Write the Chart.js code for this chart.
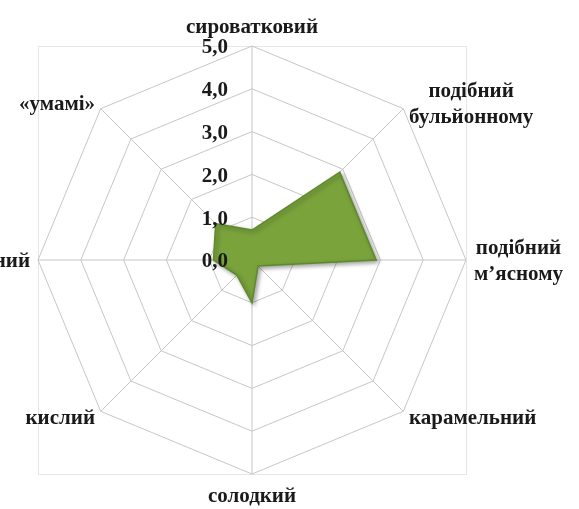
<!DOCTYPE html>
<html>
<head>
    <title>Профіль смаку</title>
    <script src="https://cdn.jsdelivr.net/npm/chart.js"></script>
    <style>
        body { margin: 0; background: #fff; overflow: hidden; }
        #chart { display: block; }
    </style>
</head>
<body>
    <canvas id="chart" width="579" height="509"></canvas>

    <script>
        // axes, clockwise from the top
        const labels = [
            'сироватковий',
            ['подібний', 'бульйонному'],
            ['подібний', 'м’ясному'],
            'карамельний',
            'солодкий',
            'кислий',
            'солоний',
            '«умамі»'
        ];
        const values = [0.7, 2.9, 2.9, 0.2, 1.0, 0.5, 0.9, 1.2];
        const tickLabels = ['0,0', '1,0', '2,0', '3,0', '4,0', '5,0'];

        const textFont = 'bold 21px "Liberation Serif", "Times New Roman", serif';
        const lineHeight = 26;

        // excel-like labels: point labels centred on the outside of each spoke,
        // tick values to the left of the vertical axis
        const textPlugin = {
            id: 'excelText',
            beforeDraw(chart) {
                const r = chart.scales.r;
                const ctx = chart.ctx;
                ctx.save();
                ctx.strokeStyle = '#e6e6e6';
                ctx.lineWidth = 1;
                ctx.strokeRect(r.xCenter - r.drawingArea + 0.5, r.yCenter - r.drawingArea + 0.5,
                    r.drawingArea * 2, r.drawingArea * 2);
                ctx.restore();
            },
            beforeDatasetsDraw(chart) {
                const ctx = chart.ctx;
                ctx.save();
                ctx.shadowColor = 'rgba(0, 0, 0, 0.35)';
                ctx.shadowBlur = 4;
                ctx.shadowOffsetX = 2;
                ctx.shadowOffsetY = 2;
            },
            afterDatasetsDraw(chart) {
                chart.ctx.restore();
            },
            afterDraw(chart) {
                const r = chart.scales.r;
                const ctx = chart.ctx;
                ctx.save();
                ctx.font = textFont;
                ctx.fillStyle = '#1a1a1a';
                ctx.textBaseline = 'middle';

                labels.forEach((label, i) => {
                    const lines = Array.isArray(label) ? label : [label];
                    const angle = r.getIndexAngle(i);
                    const sin = Math.sin(angle), cos = Math.cos(angle);
                    const pad = cos > 0.9 ? 7 : 8;
                    const pos = r.getPointPosition(i, r.drawingArea + pad);
                    const boxW = Math.max(...lines.map(l => ctx.measureText(l).width));
                    const boxH = lines.length * lineHeight;
                    let cx = pos.x, top = pos.y - boxH / 2;
                    if (sin > 0.3) cx = pos.x + boxW / 2;
                    else if (sin < -0.3) cx = pos.x - boxW / 2;
                    if (cos > 0.9) top = pos.y - boxH;
                    else if (cos < -0.9) top = pos.y;
                    ctx.textAlign = 'center';
                    lines.forEach((l, k) => ctx.fillText(l, cx, top + 2 + lineHeight * (k + 0.5)));
                });

                ctx.textAlign = 'right';
                r.ticks.forEach(tick => {
                    const y = r.yCenter - r.getDistanceFromCenterForValue(tick.value);
                    ctx.fillText(tick.label, r.xCenter - 24, y + 2);
                });
                ctx.restore();
            }
        };

        new Chart(document.getElementById('chart'), {
            type: 'radar',
            data: {
                labels: labels,
                datasets: [{
                    data: values,
                    backgroundColor: '#7aa33c',
                    borderColor: '#5f8a2c',
                    borderWidth: 1.5,
                    pointRadius: 0,
                    fill: true
                }]
            },
            options: {
                responsive: false,
                animation: false,
                layout: { padding: { left: 38, right: 113, top: 46, bottom: 35 } },
                plugins: {
                    legend: { display: false },
                    tooltip: { enabled: false }
                },
                scales: {
                    r: {
                        min: 0,
                        max: 5,
                        ticks: {
                            display: false,
                            stepSize: 1,
                            callback: (v, i) => tickLabels[i]
                        },
                        pointLabels: { display: false },
                        grid: { color: '#c6c6c6', lineWidth: 1 },
                        angleLines: { color: '#c6c6c6', lineWidth: 1 }
                    }
                }
            },
            plugins: [textPlugin]
        });
    </script>
</body>
</html>
